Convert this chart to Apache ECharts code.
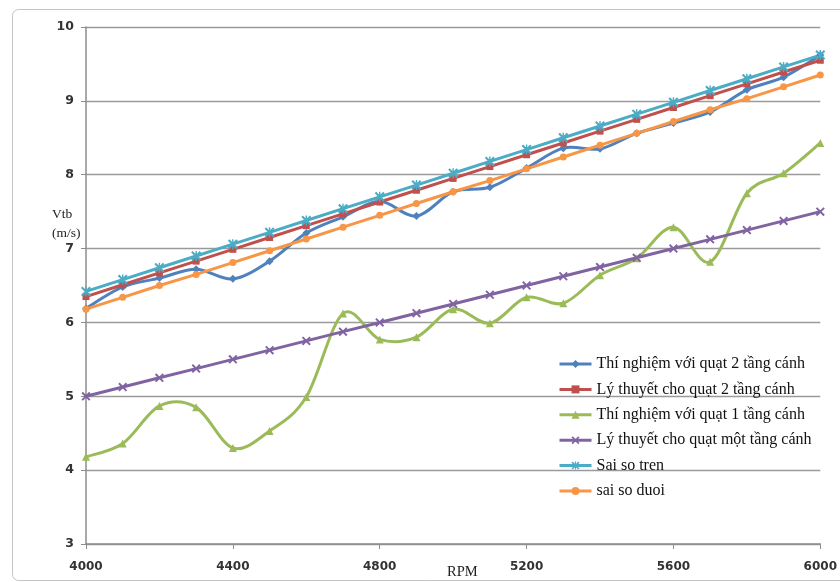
<!DOCTYPE html>
<html>
<head>
<meta charset="utf-8">
<script src="https://cdn.jsdelivr.net/npm/echarts@6/dist/echarts.min.js"></script>
<style>
  html, body { margin: 0; padding: 0; background: #fff; }
  #chart { width: 840px; height: 582px; }
</style>
</head>
<body>
<div id="chart"></div>
<script>
// RPM sample points
const rpm = [4000, 4100, 4200, 4300, 4400, 4500, 4600, 4700, 4800, 4900, 5000,
             5100, 5200, 5300, 5400, 5500, 5600, 5700, 5800, 5900, 6000];

// Average velocity Vtb (m/s)
const expTwoStage = [6.19, 6.48, 6.60, 6.72, 6.59, 6.83, 7.21, 7.43, 7.64, 7.44, 7.77,
                     7.83, 8.09, 8.36, 8.35, 8.56, 8.70, 8.85, 9.15, 9.32, 9.62];
const theoryTwoStage = [6.35, 6.51, 6.67, 6.83, 6.99, 7.15, 7.31, 7.47, 7.63, 7.79, 7.95,
                        8.11, 8.27, 8.43, 8.59, 8.75, 8.91, 9.07, 9.23, 9.39, 9.55];
const expOneStage = [4.18, 4.36, 4.87, 4.85, 4.30, 4.53, 4.99, 6.12, 5.77, 5.80, 6.18,
                     5.99, 6.34, 6.26, 6.64, 6.87, 7.29, 6.82, 7.75, 8.02, 8.43];
const theoryOneStage = [5.00, 5.125, 5.25, 5.375, 5.50, 5.625, 5.75, 5.875, 6.00, 6.125, 6.25,
                        6.375, 6.50, 6.625, 6.75, 6.875, 7.00, 7.125, 7.25, 7.375, 7.50];
const upperBound = [6.42, 6.58, 6.74, 6.90, 7.06, 7.22, 7.38, 7.54, 7.70, 7.86, 8.02,
                    8.18, 8.34, 8.50, 8.66, 8.82, 8.98, 9.14, 9.30, 9.46, 9.62];
const lowerBound = [6.18, 6.34, 6.50, 6.65, 6.81, 6.97, 7.13, 7.29, 7.45, 7.61, 7.77,
                    7.92, 8.08, 8.24, 8.40, 8.56, 8.72, 8.88, 9.03, 9.19, 9.35];

const seriesNames = [
  'Thí nghiệm với quạt 2 tầng cánh',
  'Lý thuyết cho quạt 2 tầng cánh',
  'Thí nghiệm với quạt 1 tầng cánh',
  'Lý thuyết cho quạt một tầng cánh',
  'Sai so tren',
  'sai so duoi'
];
const colors = ['#4F81BD', '#C0504D', '#9BBB59', '#8064A2', '#4BACC6', '#F79646'];
const yTicks = [3, 4, 5, 6, 7, 8, 9, 10];
const xTicks = [4000, 4400, 4800, 5200, 5600, 6000];

const pair = arr => rpm.map((r, i) => [r, arr[i]]);

// Marker shapes drawn as filled paths
const crossPath = 'path://M0,1.5L1.5,0L10,8.5L8.5,10ZM8.5,0L10,1.5L1.5,10L0,8.5Z';
const starPath = 'path://M0,1.5L1.5,0L10,8.5L8.5,10ZM8.5,0L10,1.5L1.5,10L0,8.5ZM4.3,0L5.7,0L5.7,10L4.3,10Z';

const LINE_W = 3;

function lineSeries(name, data, color, symbol, size, hideLine) {
  return {
    name: name,
    type: 'line',
    data: pair(data),
    smooth: false,
    symbol: symbol,
    symbolSize: size,
    showAllSymbol: true,
    lineStyle: { color: color, width: LINE_W, opacity: hideLine ? 0 : 1 },
    itemStyle: { color: color },
    emphasis: { disabled: true },
    z: 3
  };
}

// Cardinal-spline curve through the measured points (spreadsheet-style smoothing)
function smoothCurve(values, color) {
  return {
    type: 'custom',
    silent: true,
    z: 2,
    data: pair(values),
    encode: { x: 0, y: 1 },
    renderItem: (params, api) => {
      if (params.dataIndex !== 0) return null;
      const pts = rpm.map((r, i) => api.coord([r, values[i]]));
      const n = pts.length;
      let d = 'M' + pts[0][0] + ',' + pts[0][1];
      for (let i = 0; i < n - 1; i++) {
        const p0 = pts[Math.max(i - 1, 0)];
        const p1 = pts[i];
        const p2 = pts[i + 1];
        const p3 = pts[Math.min(i + 2, n - 1)];
        const c1x = p1[0] + (p2[0] - p0[0]) / 6;
        const c1y = p1[1] + (p2[1] - p0[1]) / 6;
        const c2x = p2[0] - (p3[0] - p1[0]) / 6;
        const c2y = p2[1] - (p3[1] - p1[1]) / 6;
        d += ' C' + c1x + ',' + c1y + ' ' + c2x + ',' + c2y + ' ' + p2[0] + ',' + p2[1];
      }
      return {
        type: 'path',
        shape: { pathData: d },
        style: { fill: 'none', stroke: color, lineWidth: LINE_W, lineJoin: 'round' }
      };
    }
  };
}

const chart = echarts.init(document.getElementById('chart'), null, { renderer: 'canvas' });

chart.setOption({
  animation: false,
  backgroundColor: '#fff',
  color: colors,
  grid: { left: 86, right: 16, top: 27, bottom: 38, containLabel: false },
  legend: {
    orient: 'vertical',
    left: 553,
    top: 351,
    itemWidth: 32,
    itemHeight: 10,
    itemGap: 9.4,
    textStyle: { fontFamily: 'Liberation Serif', fontSize: 16, color: '#111' },
    data: seriesNames.map((n, i) => ({
      name: n,
      lineStyle: { color: colors[i], width: LINE_W, opacity: 1 }
    }))
  },
  xAxis: {
    type: 'value',
    min: 4000,
    max: 6000,
    interval: 400,
    axisLine: { show: true, lineStyle: { color: '#8c8c8c', width: 1.5 } },
    axisTick: { show: true, length: 5, lineStyle: { color: '#8c8c8c' } },
    splitLine: { show: false },
    axisLabel: {
      margin: 17,
      color: '#333',
      fontFamily: 'DejaVu Sans',
      fontSize: 12,
      fontWeight: 'bold',
      formatter: v => xTicks.includes(v) ? String(v) : ''
    }
  },
  yAxis: {
    type: 'value',
    min: 3,
    max: 10,
    interval: 1,
    axisLine: { show: true, lineStyle: { color: '#8c8c8c', width: 1.5 } },
    axisTick: { show: true, length: 5, lineStyle: { color: '#8c8c8c' } },
    splitLine: { show: true, lineStyle: { color: '#9a9a9a', width: 1.3 } },
    axisLabel: {
      margin: 12,
      color: '#333',
      fontFamily: 'DejaVu Sans',
      fontSize: 12.5,
      fontWeight: 'bold',
      formatter: v => yTicks.includes(v) ? String(v) : ''
    }
  },
  graphic: [
    {
      type: 'rect',
      shape: { x: 12.5, y: 9.5, width: 840, height: 571, r: 6 },
      style: { fill: 'none', stroke: '#c4c4c4', lineWidth: 1 },
      silent: true,
      z: -1
    },
    {
      type: 'text',
      left: 52,
      top: 205,
      style: {
        text: 'Vtb\n(m/s)',
        fontFamily: 'Liberation Serif',
        fontSize: 13.5,
        lineHeight: 19,
        fill: '#222'
      }
    },
    {
      type: 'text',
      left: 447,
      top: 565,
      style: {
        text: 'RPM',
        fontFamily: 'Liberation Serif',
        fontSize: 14.5,
        fill: '#222'
      }
    }
  ],
  series: [
    smoothCurve(expTwoStage, colors[0]),
    smoothCurve(expOneStage, colors[2]),
    lineSeries(seriesNames[0], expTwoStage, colors[0], 'diamond', 8, true),
    lineSeries(seriesNames[1], theoryTwoStage, colors[1], 'rect', 7, false),
    lineSeries(seriesNames[2], expOneStage, colors[2], 'triangle', 8, true),
    lineSeries(seriesNames[3], theoryOneStage, colors[3], crossPath, 9, false),
    lineSeries(seriesNames[4], upperBound, colors[4], starPath, 10, false),
    lineSeries(seriesNames[5], lowerBound, colors[5], 'circle', 7, false)
  ]
});
</script>
</body>
</html>
